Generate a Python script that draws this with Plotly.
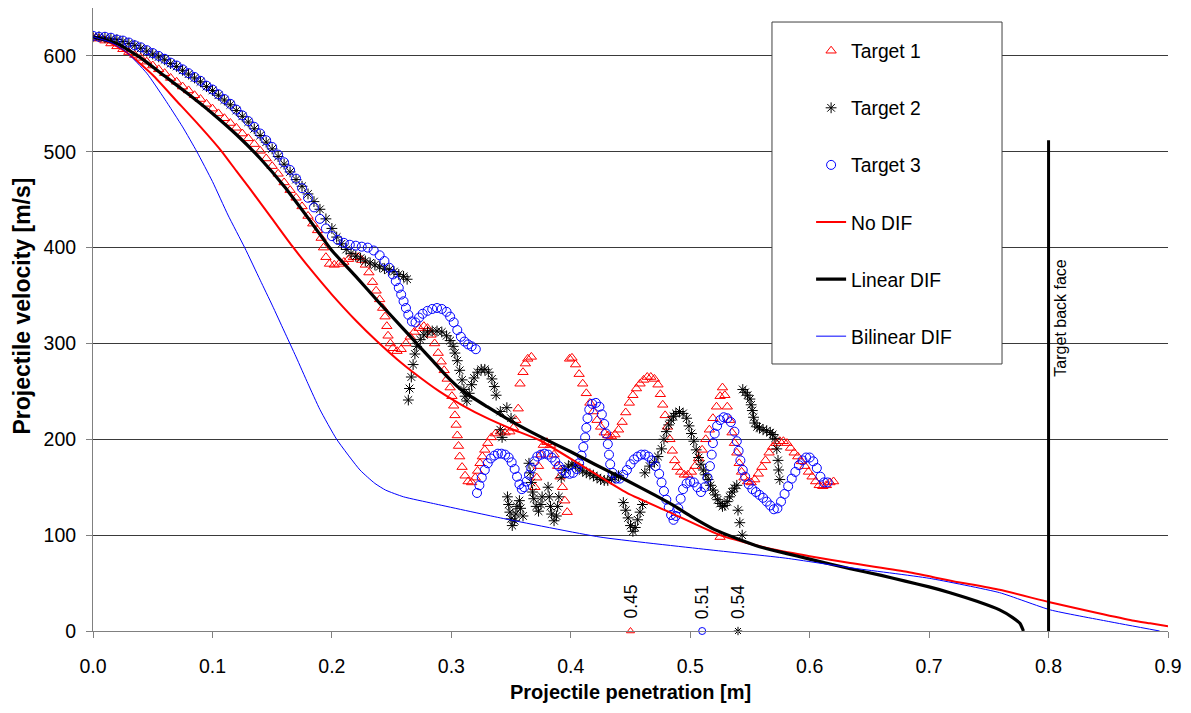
import plotly.graph_objects as go

# ---------------- measured data ----------------
# Target 1 (triangles)
T1_X = [0, 0.005, 0.01, 0.015, 0.02, 0.025, 0.03, 0.035, 0.04, 0.045, 0.05, 0.055, 0.06, 0.065,
        0.07, 0.075, 0.08, 0.085, 0.09, 0.095, 0.1, 0.105, 0.11, 0.115, 0.12, 0.125, 0.13, 0.135,
        0.14, 0.145, 0.15, 0.155, 0.16, 0.165, 0.17, 0.175, 0.18, 0.184, 0.188, 0.191, 0.193, 0.195,
        0.198, 0.202, 0.206, 0.21, 0.214, 0.218, 0.222, 0.225, 0.228, 0.231, 0.234, 0.237, 0.24,
        0.2425, 0.2445, 0.246, 0.247, 0.249, 0.251, 0.2545, 0.258, 0.262, 0.2655, 0.269, 0.273,
        0.277, 0.28, 0.283, 0.286, 0.289, 0.2915, 0.294, 0.2965, 0.299, 0.3005, 0.302, 0.303, 0.304,
        0.305, 0.306, 0.307, 0.309, 0.3115, 0.314, 0.317, 0.32, 0.322, 0.324, 0.326, 0.328, 0.3305,
        0.3335, 0.337, 0.341, 0.345, 0.349, 0.352, 0.354, 0.356, 0.3575, 0.36, 0.362, 0.364, 0.367,
        0.37, 0.3715, 0.373, 0.375, 0.377, 0.38, 0.383, 0.386, 0.389, 0.391, 0.393, 0.395, 0.397,
        0.399, 0.401, 0.404, 0.407, 0.41, 0.413, 0.416, 0.419, 0.422, 0.425, 0.428, 0.431, 0.434,
        0.437, 0.44, 0.443, 0.446, 0.449, 0.452, 0.455, 0.458, 0.461, 0.464, 0.467, 0.47, 0.473,
        0.475, 0.477, 0.479, 0.481, 0.483, 0.485, 0.487, 0.489, 0.492, 0.495, 0.498, 0.501, 0.504,
        0.507, 0.51, 0.513, 0.516, 0.519, 0.522, 0.525, 0.527, 0.529, 0.531, 0.533, 0.535, 0.537,
        0.539, 0.541, 0.543, 0.545, 0.548, 0.551, 0.554, 0.557, 0.56, 0.563, 0.566, 0.569, 0.572,
        0.575, 0.578, 0.581, 0.584, 0.587, 0.59, 0.593, 0.596, 0.599, 0.602, 0.605, 0.608, 0.611,
        0.614, 0.617, 0.62, 0.525]
T1_Y = [619, 618, 616, 613, 610, 607, 604, 601, 598, 594, 590, 586, 582, 577,
        573, 568, 564, 559, 555, 550, 545, 540, 535, 530, 525, 519, 514, 508,
        501, 493, 485, 477, 468, 460, 452, 443, 433, 425, 418, 410, 400, 390,
        383, 382, 383, 385, 388, 390, 390, 387, 382, 374, 364, 355, 346,
        337, 328, 318, 308, 300, 295, 292, 294, 300, 307, 312, 316,
        318, 316, 309, 300, 290, 281, 272, 263, 254, 245, 235, 225, 215,
        204, 193, 182, 171, 162, 156, 155, 160, 167, 175, 182, 189, 196,
        202, 206, 208, 207, 208, 212, 220, 232, 258, 270, 279, 284, 286,
        150, 160, 172, 184, 194, 197, 194, 184, 172, 161, 150, 136, 124,
        284, 285, 278, 268, 258, 248, 238, 229, 220, 213, 207, 204, 203,
        205, 210, 218, 228, 238, 246, 253, 258, 262, 265, 265, 263, 257,
        247, 236, 225, 213, 200, 188, 178, 171, 166, 163, 163, 166, 172,
        180, 189, 200, 210, 222, 234, 245, 254, 246, 234, 220, 207, 196,
        186, 175, 166, 160, 156, 155, 158, 164, 171, 178, 186, 192, 196,
        198, 198, 196, 191, 186, 182, 177, 172, 166, 161, 156, 152, 151,
        152, 155, 156, 98]

# Target 2 (asterisks)
T2_X = [0, 0.005, 0.01, 0.015, 0.02, 0.025, 0.03, 0.035, 0.04, 0.045, 0.05, 0.055, 0.06, 0.065,
        0.07, 0.075, 0.08, 0.085, 0.09, 0.095, 0.1, 0.105, 0.11, 0.115, 0.12, 0.125, 0.13, 0.135,
        0.14, 0.145, 0.15, 0.155, 0.16, 0.165, 0.17, 0.175, 0.18, 0.185, 0.19, 0.195, 0.2, 0.204,
        0.208, 0.212, 0.216, 0.22, 0.224, 0.228, 0.232, 0.236, 0.24, 0.244, 0.248, 0.252, 0.256,
        0.26, 0.263,
        0.264, 0.265, 0.2665, 0.268, 0.2695, 0.271, 0.274, 0.277, 0.28, 0.284, 0.288, 0.292, 0.296,
        0.299, 0.3015, 0.303, 0.305, 0.307, 0.309, 0.3105, 0.3115, 0.313, 0.315, 0.317, 0.319, 0.322,
        0.325, 0.328, 0.331, 0.334, 0.336, 0.3375,
        0.341, 0.3465, 0.341, 0.3425, 0.35,
        0.347, 0.348, 0.349, 0.35, 0.351, 0.353, 0.354, 0.355, 0.357, 0.358, 0.36,
        0.365, 0.366, 0.367, 0.368, 0.369, 0.371, 0.373, 0.375, 0.376,
        0.381, 0.382, 0.383, 0.384, 0.386, 0.388, 0.389, 0.39,
        0.392, 0.395, 0.398, 0.401, 0.404, 0.407, 0.41, 0.413, 0.416, 0.419, 0.422, 0.425, 0.428,
        0.431, 0.434, 0.437, 0.44,
        0.444, 0.446, 0.448, 0.45, 0.452, 0.454, 0.456, 0.458, 0.46,
        0.462, 0.466, 0.47, 0.473, 0.476, 0.478, 0.48, 0.482, 0.484, 0.486, 0.488, 0.491, 0.494,
        0.497, 0.499, 0.501, 0.503, 0.505, 0.507, 0.509, 0.511, 0.513, 0.515, 0.517, 0.519, 0.521,
        0.523, 0.525, 0.527, 0.529, 0.531, 0.533, 0.535, 0.537, 0.539,
        0.54, 0.5415, 0.5435,
        0.544, 0.546, 0.548, 0.55, 0.551, 0.552, 0.553, 0.554, 0.556, 0.558, 0.561, 0.564, 0.567,
        0.569, 0.571, 0.5725, 0.5735, 0.574, 0.575]
T2_Y = [620, 620, 619, 618, 617, 615, 613, 611, 608, 605, 602, 599, 596, 592,
        589, 585, 581, 577, 573, 568, 564, 559, 554, 549, 543, 537, 531, 524,
        517, 510, 503, 495, 487, 479, 471, 464, 456, 448, 440, 430, 420, 411,
        404, 398, 394, 391, 389, 386, 384, 382, 380, 378, 377, 375, 372,
        370, 367,
        241, 253, 265, 278, 289, 297, 304, 309, 312, 313, 313, 312, 308,
        303, 297, 290, 282, 272, 262, 252, 245, 240, 248, 257, 264, 270,
        273, 273, 270, 263, 255, 246,
        229, 233, 210, 202, 222,
        140, 132, 124, 117, 110, 115, 122, 130, 136, 128, 120,
        175, 165, 155, 145, 138, 130, 125, 132, 140,
        150, 140, 130, 122, 115, 120, 130, 140,
        160, 168, 172, 174, 173, 170, 167, 165, 164, 162, 160, 158, 157,
        157, 158, 160, 162,
        134, 126, 118, 110, 104, 108, 116, 124, 132,
        165, 172, 176, 182, 190, 200, 208, 215, 220, 224, 227, 229, 227,
        222, 214, 206, 198, 189, 181, 174, 168, 163, 158, 152, 147, 142,
        137, 133, 130, 131, 135, 140, 145, 149, 152,
        126, 113, 100,
        252, 249, 246, 242, 236, 230, 223, 217, 213, 212, 210, 209, 207,
        205, 201, 190, 178, 168, 158]

# Target 3 (circles)
T3_X = [0, 0.005, 0.01, 0.015, 0.02, 0.025, 0.03, 0.035, 0.04, 0.045, 0.05, 0.055, 0.06, 0.065,
        0.07, 0.075, 0.08, 0.085, 0.09, 0.095, 0.1, 0.105, 0.11, 0.115, 0.12, 0.125, 0.13, 0.135,
        0.14, 0.145, 0.15, 0.155, 0.16, 0.165, 0.17, 0.175, 0.18, 0.185, 0.19, 0.195, 0.2, 0.205,
        0.21, 0.215, 0.22, 0.225, 0.23, 0.235, 0.24, 0.244, 0.248, 0.251, 0.2535, 0.256, 0.258,
        0.26, 0.262, 0.264, 0.267, 0.27, 0.273, 0.276, 0.28, 0.284, 0.288, 0.292, 0.296, 0.299,
        0.302, 0.305, 0.308, 0.311, 0.314, 0.317, 0.3205,
        0.3215, 0.3235, 0.3255, 0.328, 0.3305, 0.333, 0.336, 0.339, 0.342, 0.345, 0.348, 0.3505,
        0.353, 0.355, 0.357, 0.359, 0.361, 0.363, 0.365, 0.367, 0.3695, 0.372, 0.375, 0.378, 0.381,
        0.384, 0.387, 0.39, 0.393, 0.396, 0.399, 0.402, 0.405, 0.407, 0.409, 0.4105, 0.412, 0.413,
        0.414, 0.4155, 0.418, 0.421, 0.424, 0.426, 0.428, 0.4295, 0.431, 0.432, 0.433, 0.435, 0.438,
        0.441, 0.444, 0.447, 0.45, 0.453, 0.456, 0.459, 0.462, 0.465, 0.468, 0.471, 0.474, 0.476,
        0.478, 0.48, 0.482, 0.484, 0.486, 0.488, 0.49, 0.492, 0.494, 0.497, 0.5, 0.503, 0.506,
        0.509, 0.512, 0.5145, 0.5165, 0.518, 0.519, 0.5205, 0.5225, 0.525, 0.528, 0.531, 0.534,
        0.537, 0.539, 0.5405, 0.542, 0.544, 0.546, 0.549, 0.552, 0.555, 0.558, 0.561, 0.564, 0.567,
        0.57, 0.573, 0.576, 0.579, 0.582, 0.585, 0.588, 0.591, 0.594, 0.597, 0.6, 0.603, 0.606,
        0.609, 0.612, 0.615]
T3_Y = [621, 620, 620, 619, 617, 616, 614, 611, 609, 606, 603, 600, 597, 593,
        590, 586, 582, 578, 574, 569, 565, 560, 555, 550, 544, 538, 532, 526,
        519, 512, 505, 497, 489, 481, 472, 462, 452, 442, 430, 420, 412, 408,
        405, 403, 402, 401, 400, 397, 392, 386, 379, 372, 365, 358, 351,
        344, 337, 330, 323, 322, 327, 331, 334, 336, 337, 336, 333, 328,
        322, 314, 307, 302, 299, 297, 294,
        144, 152, 160, 168, 175, 180, 183, 185, 185, 184, 181, 176,
        169, 161, 153, 148, 150, 156, 163, 170, 177, 182, 184, 185, 184,
        181, 177, 172, 168, 165, 164, 165, 169, 175, 183, 192, 202, 212,
        222, 231, 237, 238, 234, 226, 216, 206, 195, 184, 174, 165, 159,
        159, 163, 168, 174, 179, 182, 184, 184, 182, 178, 172, 164, 155,
        146, 137, 129, 121, 116, 120, 128, 138, 148, 154, 156, 155, 150,
        145, 150, 160, 172, 184, 196, 206, 214, 220, 223, 222, 218,
        208, 198, 188, 178, 168, 161, 153, 148, 145, 142, 139, 135, 131,
        127, 128, 135, 143, 151, 159, 166, 173, 178, 181, 181, 177, 170,
        161, 155, 155]

# Simulations
NODIF_X = [0, 0.01, 0.02, 0.03, 0.05, 0.07, 0.09, 0.108, 0.12, 0.131, 0.15, 0.1665, 0.185, 0.2,
           0.22, 0.238, 0.255, 0.268, 0.29, 0.31, 0.33, 0.35, 0.374, 0.41, 0.447, 0.486, 0.525,
           0.55, 0.57, 0.6, 0.634, 0.68, 0.72, 0.759, 0.801, 0.84, 0.87, 0.885, 0.9]
NODIF_Y = [620, 616, 610, 602, 580, 553, 526, 500, 480, 462, 430, 402, 373, 351,
           324, 302, 283, 270, 250, 235, 222, 211, 199, 172, 144, 122, 100,
           91, 85, 78, 71, 62, 52, 43, 30, 19, 11, 8, 5]

LINEAR_X = [0, 0.02, 0.04, 0.06, 0.08, 0.1, 0.12, 0.14, 0.16, 0.18, 0.2, 0.22, 0.24, 0.26,
            0.271, 0.285, 0.296, 0.31, 0.33, 0.35, 0.374, 0.4, 0.42, 0.447, 0.47, 0.486, 0.5,
            0.52, 0.54, 0.558, 0.58, 0.6, 0.634, 0.66, 0.68, 0.7, 0.7175, 0.74, 0.759, 0.77,
            0.776, 0.778, 0.779]
LINEAR_Y = [620, 613, 598, 579, 560, 540, 518, 493, 464, 431, 397, 370, 342, 315,
            300, 281, 266, 250, 234, 219, 203, 187, 174, 157, 142, 131, 120,
            106, 96, 88, 81, 75, 65, 58, 52, 46, 40, 31, 22, 14,
            8, 3, 0]

BILINEAR_X = [0, 0.015, 0.028, 0.045, 0.06, 0.075, 0.087, 0.1, 0.113, 0.127, 0.14, 0.15, 0.16,
              0.17, 0.18, 0.19, 0.204, 0.2235, 0.236, 0.245, 0.26, 0.285, 0.341, 0.4245, 0.514,
              0.58, 0.634, 0.7, 0.759, 0.8015, 0.85, 0.893]
BILINEAR_Y = [620, 614, 604, 582, 555, 526, 500, 469, 434, 400, 366, 340, 313,
              286, 258, 231, 200, 168, 154, 147, 140, 133, 118, 98, 85,
              76, 66, 55, 40, 22, 10, 0]

# Final penetration depths
FINAL_LABELS = ["0.45", "0.51", "0.54"]
FINAL_X = [0.45, 0.51, 0.54]

BACK_FACE_X = 0.8
BACK_FACE_TOP = 512

X_TICKS = [0.0, 0.1, 0.2, 0.3, 0.4, 0.5, 0.6, 0.7, 0.8, 0.9]
Y_TICKS = [0, 100, 200, 300, 400, 500, 600]

FONT = "Arial, 'Liberation Sans', sans-serif"
RED, BLUE, BLACK = "#FF0000", "#0000FF", "#000000"

fig = go.Figure()

marker_series = [
    ("Target 1", T1_X, T1_Y, "triangle-up-open", RED),
    ("Target 2", T2_X, T2_Y, "asterisk-open", BLACK),
    ("Target 3", T3_X, T3_Y, "circle-open", BLUE),
]
for i, (name, xs, ys, sym, col) in enumerate(marker_series):
    fig.add_trace(go.Scatter(
        x=xs, y=ys, mode="markers", name=name, legendgroup=f"g{i}",
        marker=dict(symbol=sym, size=9, color=col, line=dict(color=col, width=1)),
    ))

line_series = [
    ("No DIF", NODIF_X, NODIF_Y, RED, 2),
    ("Linear DIF", LINEAR_X, LINEAR_Y, BLACK, 3.2),
    ("Bilinear DIF", BILINEAR_X, BILINEAR_Y, BLUE, 1),
]
for i, (name, xs, ys, col, w) in enumerate(line_series):
    fig.add_trace(go.Scatter(
        x=xs, y=ys, mode="lines", name=name, legendgroup=f"g{i + 3}",
        line=dict(color=col, width=w, shape="spline", smoothing=0.5),
    ))

# final depth markers on the axis
for (name, xs, ys, sym, col), fx in zip(marker_series, [FINAL_X[0], FINAL_X[2], FINAL_X[1]]):
    fig.add_trace(go.Scatter(
        x=[fx], y=[0], mode="markers", showlegend=False, cliponaxis=False,
        marker=dict(symbol=sym, size=7, color=col, line=dict(color=col, width=1)),
    ))

annotations = []
for lab, fx in zip(FINAL_LABELS, FINAL_X):
    annotations.append(dict(
        x=fx, y=0, xref="x", yref="y", text=lab, showarrow=False, textangle=-90,
        yanchor="bottom", xanchor="center", yshift=10,
        font=dict(family=FONT, size=17.5, color="black"),
    ))

annotations.append(dict(
    x=BACK_FACE_X, y=327, xref="x", yref="y", text="Target back face", showarrow=False,
    textangle=-90, xanchor="left", yanchor="middle", xshift=2,
    font=dict(family=FONT, size=16, color="black"),
))
annotations.append(dict(
    x=0.5, y=-0.098, xref="paper", yref="paper", text="<b>Projectile penetration [m]</b>",
    showarrow=False, xanchor="center", yanchor="middle",
    font=dict(family=FONT, size=20, color="black"),
))
annotations.append(dict(
    x=-0.066, y=0.521, xref="paper", yref="paper", text="<b>Projectile velocity [m/s]</b>",
    showarrow=False, textangle=-90, xanchor="center", yanchor="middle",
    font=dict(family=FONT, size=23, color="black"),
))

shapes = [
    dict(type="line", xref="x", yref="y", x0=BACK_FACE_X, x1=BACK_FACE_X, y0=0, y1=BACK_FACE_TOP,
         line=dict(color="black", width=3)),
    dict(type="rect", xref="paper", yref="paper", x0=0.6316, x1=0.8456, y0=0.4286, y1=0.9775,
         fillcolor="white", line=dict(color="#404040", width=1), layer="above"),
]

fig.update_layout(
    width=1191, height=713,
    margin=dict(l=93, r=23, t=8, b=82),
    paper_bgcolor="white", plot_bgcolor="white",
    font=dict(family=FONT, size=19.5, color="black"),
    showlegend=True,
    legend=dict(
        x=0.668, y=0.962, xanchor="left", yanchor="top",
        bgcolor="rgba(0,0,0,0)", borderwidth=0,
        tracegroupgap=29, traceorder="grouped",
        font=dict(family=FONT, size=19.3, color="black"),
    ),
    annotations=annotations,
    shapes=shapes,
    xaxis=dict(
        range=[0, 0.9], tickvals=X_TICKS, ticktext=[f"{v:.1f}" for v in X_TICKS],
        showgrid=False, zeroline=False, showline=True, linecolor="#808080", linewidth=1,
        ticks="outside", ticklen=6, tickcolor="#808080", ticklabelstandoff=12,
        tickfont=dict(family=FONT, size=19.5, color="black"),
    ),
    yaxis=dict(
        range=[0, 650], tickvals=Y_TICKS,
        showgrid=True, gridcolor="#3a3a3a", gridwidth=1, zeroline=False,
        showline=True, linecolor="#808080", linewidth=1,
        ticks="outside", ticklen=6, tickcolor="#808080", ticklabelstandoff=6,
        tickfont=dict(family=FONT, size=19.5, color="black"),
    ),
)

fig.write_html("out.html")
